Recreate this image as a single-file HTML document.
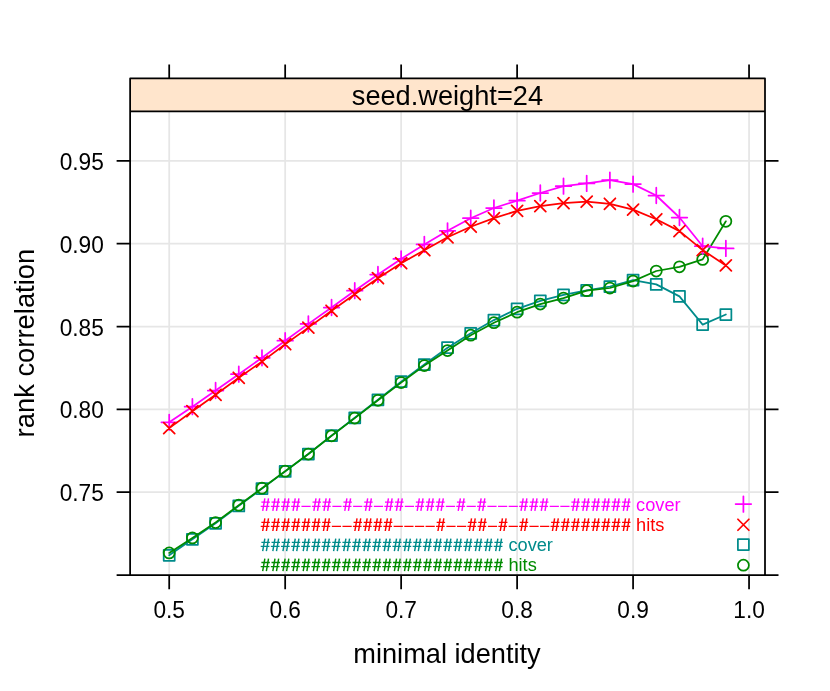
<!DOCTYPE html>
<html><head><meta charset="utf-8"><title>seed.weight=24</title>
<style>
html,body{margin:0;padding:0;background:#fff;}
svg{display:block;will-change:transform;}
text{font-family:"Liberation Sans",sans-serif;}
</style></head><body>
<svg width="830" height="691" viewBox="0 0 830 691">
<rect width="830" height="691" fill="#ffffff"/>
<path d="M169.20 111.3V575.15M285.17 111.3V575.15M401.14 111.3V575.15M517.11 111.3V575.15M633.08 111.3V575.15M749.05 111.3V575.15M130.12 492.22H765.0M130.12 409.37H765.0M130.12 326.52H765.0M130.12 243.67H765.0M130.12 160.82H765.0" stroke="#E6E6E6" stroke-width="1.75" fill="none"/>
<g fill="none" stroke-width="1.75" stroke-linecap="round" stroke-linejoin="round">
<path d="M169.20 555.30L192.39 539.30L215.59 523.30L238.78 505.90L261.98 488.60L285.17 471.40L308.36 454.00L331.56 435.60L354.75 417.80L377.95 399.80L401.14 381.60L424.33 364.50L447.53 347.70L470.72 333.30L493.92 320.10L517.11 308.80L540.30 300.80L563.50 294.80L586.69 290.40L609.89 286.50L633.08 280.10L656.27 284.40L679.47 296.40L702.66 324.60L725.86 314.50" stroke="#008B8B"/>
<path d="M163.70 549.80H174.70V560.80H163.70ZM186.89 533.80H197.89V544.80H186.89ZM210.09 517.80H221.09V528.80H210.09ZM233.28 500.40H244.28V511.40H233.28ZM256.48 483.10H267.48V494.10H256.48ZM279.67 465.90H290.67V476.90H279.67ZM302.86 448.50H313.86V459.50H302.86ZM326.06 430.10H337.06V441.10H326.06ZM349.25 412.30H360.25V423.30H349.25ZM372.45 394.30H383.45V405.30H372.45ZM395.64 376.10H406.64V387.10H395.64ZM418.83 359.00H429.83V370.00H418.83ZM442.03 342.20H453.03V353.20H442.03ZM465.22 327.80H476.22V338.80H465.22ZM488.42 314.60H499.42V325.60H488.42ZM511.61 303.30H522.61V314.30H511.61ZM534.80 295.30H545.80V306.30H534.80ZM558.00 289.30H569.00V300.30H558.00ZM581.19 284.90H592.19V295.90H581.19ZM604.39 281.00H615.39V292.00H604.39ZM627.58 274.60H638.58V285.60H627.58ZM650.77 278.90H661.77V289.90H650.77ZM673.97 290.90H684.97V301.90H673.97ZM697.16 319.10H708.16V330.10H697.16ZM720.36 309.00H731.36V320.00H720.36Z" stroke="#008B8B"/>
<path d="M169.20 552.95L192.39 537.90L215.59 522.50L238.78 505.20L261.98 488.20L285.17 471.20L308.36 454.00L331.56 435.80L354.75 418.10L377.95 400.30L401.14 382.60L424.33 365.60L447.53 350.60L470.72 335.20L493.92 322.70L517.11 312.20L540.30 304.10L563.50 298.10L586.69 290.70L609.89 288.00L633.08 281.10L656.27 271.00L679.47 266.80L702.66 259.40L725.86 221.30" stroke="#008B00"/>
<path d="M163.70 552.95a5.5 5.5 0 1 0 11.0 0a5.5 5.5 0 1 0 -11.0 0ZM186.89 537.90a5.5 5.5 0 1 0 11.0 0a5.5 5.5 0 1 0 -11.0 0ZM210.09 522.50a5.5 5.5 0 1 0 11.0 0a5.5 5.5 0 1 0 -11.0 0ZM233.28 505.20a5.5 5.5 0 1 0 11.0 0a5.5 5.5 0 1 0 -11.0 0ZM256.48 488.20a5.5 5.5 0 1 0 11.0 0a5.5 5.5 0 1 0 -11.0 0ZM279.67 471.20a5.5 5.5 0 1 0 11.0 0a5.5 5.5 0 1 0 -11.0 0ZM302.86 454.00a5.5 5.5 0 1 0 11.0 0a5.5 5.5 0 1 0 -11.0 0ZM326.06 435.80a5.5 5.5 0 1 0 11.0 0a5.5 5.5 0 1 0 -11.0 0ZM349.25 418.10a5.5 5.5 0 1 0 11.0 0a5.5 5.5 0 1 0 -11.0 0ZM372.45 400.30a5.5 5.5 0 1 0 11.0 0a5.5 5.5 0 1 0 -11.0 0ZM395.64 382.60a5.5 5.5 0 1 0 11.0 0a5.5 5.5 0 1 0 -11.0 0ZM418.83 365.60a5.5 5.5 0 1 0 11.0 0a5.5 5.5 0 1 0 -11.0 0ZM442.03 350.60a5.5 5.5 0 1 0 11.0 0a5.5 5.5 0 1 0 -11.0 0ZM465.22 335.20a5.5 5.5 0 1 0 11.0 0a5.5 5.5 0 1 0 -11.0 0ZM488.42 322.70a5.5 5.5 0 1 0 11.0 0a5.5 5.5 0 1 0 -11.0 0ZM511.61 312.20a5.5 5.5 0 1 0 11.0 0a5.5 5.5 0 1 0 -11.0 0ZM534.80 304.10a5.5 5.5 0 1 0 11.0 0a5.5 5.5 0 1 0 -11.0 0ZM558.00 298.10a5.5 5.5 0 1 0 11.0 0a5.5 5.5 0 1 0 -11.0 0ZM581.19 290.70a5.5 5.5 0 1 0 11.0 0a5.5 5.5 0 1 0 -11.0 0ZM604.39 288.00a5.5 5.5 0 1 0 11.0 0a5.5 5.5 0 1 0 -11.0 0ZM627.58 281.10a5.5 5.5 0 1 0 11.0 0a5.5 5.5 0 1 0 -11.0 0ZM650.77 271.00a5.5 5.5 0 1 0 11.0 0a5.5 5.5 0 1 0 -11.0 0ZM673.97 266.80a5.5 5.5 0 1 0 11.0 0a5.5 5.5 0 1 0 -11.0 0ZM697.16 259.40a5.5 5.5 0 1 0 11.0 0a5.5 5.5 0 1 0 -11.0 0ZM720.36 221.30a5.5 5.5 0 1 0 11.0 0a5.5 5.5 0 1 0 -11.0 0Z" stroke="#008B00"/>
<path d="M169.20 422.30L192.39 406.70L215.59 390.50L238.78 374.20L261.98 357.80L285.17 340.70L308.36 323.90L331.56 307.50L354.75 290.70L377.95 274.50L401.14 258.90L424.33 244.40L447.53 230.80L470.72 218.20L493.92 208.00L517.11 200.70L540.30 193.00L563.50 186.20L586.69 183.40L609.89 180.10L633.08 184.10L656.27 195.50L679.47 217.50L702.66 246.20L725.86 248.40" stroke="#FF00FF"/>
<path d="M161.42 422.30H176.98M169.20 414.52V430.08M184.61 406.70H200.17M192.39 398.92V414.48M207.81 390.50H223.37M215.59 382.72V398.28M231.00 374.20H246.56M238.78 366.42V381.98M254.20 357.80H269.76M261.98 350.02V365.58M277.39 340.70H292.95M285.17 332.92V348.48M300.58 323.90H316.14M308.36 316.12V331.68M323.78 307.50H339.34M331.56 299.72V315.28M346.97 290.70H362.53M354.75 282.92V298.48M370.17 274.50H385.73M377.95 266.72V282.28M393.36 258.90H408.92M401.14 251.12V266.68M416.55 244.40H432.11M424.33 236.62V252.18M439.75 230.80H455.31M447.53 223.02V238.58M462.94 218.20H478.50M470.72 210.42V225.98M486.14 208.00H501.70M493.92 200.22V215.78M509.33 200.70H524.89M517.11 192.92V208.48M532.52 193.00H548.08M540.30 185.22V200.78M555.72 186.20H571.28M563.50 178.42V193.98M578.91 183.40H594.47M586.69 175.62V191.18M602.11 180.10H617.67M609.89 172.32V187.88M625.30 184.10H640.86M633.08 176.32V191.88M648.49 195.50H664.05M656.27 187.72V203.28M671.69 217.50H687.25M679.47 209.72V225.28M694.88 246.20H710.44M702.66 238.42V253.98M718.08 248.40H733.64M725.86 240.62V256.18" stroke="#FF00FF"/>
<path d="M169.20 428.10L192.39 411.20L215.59 394.80L238.78 377.80L261.98 361.60L285.17 344.20L308.36 327.60L331.56 310.80L354.75 294.20L377.95 278.20L401.14 263.20L424.33 250.20L447.53 237.30L470.72 226.70L493.92 218.10L517.11 210.90L540.30 206.10L563.50 203.20L586.69 201.70L609.89 203.80L633.08 209.60L656.27 219.30L679.47 231.10L702.66 250.10L725.86 265.40" stroke="#FF0000"/>
<path d="M163.70 422.60L174.70 433.60M163.70 433.60L174.70 422.60M186.89 405.70L197.89 416.70M186.89 416.70L197.89 405.70M210.09 389.30L221.09 400.30M210.09 400.30L221.09 389.30M233.28 372.30L244.28 383.30M233.28 383.30L244.28 372.30M256.48 356.10L267.48 367.10M256.48 367.10L267.48 356.10M279.67 338.70L290.67 349.70M279.67 349.70L290.67 338.70M302.86 322.10L313.86 333.10M302.86 333.10L313.86 322.10M326.06 305.30L337.06 316.30M326.06 316.30L337.06 305.30M349.25 288.70L360.25 299.70M349.25 299.70L360.25 288.70M372.45 272.70L383.45 283.70M372.45 283.70L383.45 272.70M395.64 257.70L406.64 268.70M395.64 268.70L406.64 257.70M418.83 244.70L429.83 255.70M418.83 255.70L429.83 244.70M442.03 231.80L453.03 242.80M442.03 242.80L453.03 231.80M465.22 221.20L476.22 232.20M465.22 232.20L476.22 221.20M488.42 212.60L499.42 223.60M488.42 223.60L499.42 212.60M511.61 205.40L522.61 216.40M511.61 216.40L522.61 205.40M534.80 200.60L545.80 211.60M534.80 211.60L545.80 200.60M558.00 197.70L569.00 208.70M558.00 208.70L569.00 197.70M581.19 196.20L592.19 207.20M581.19 207.20L592.19 196.20M604.39 198.30L615.39 209.30M604.39 209.30L615.39 198.30M627.58 204.10L638.58 215.10M627.58 215.10L638.58 204.10M650.77 213.80L661.77 224.80M650.77 224.80L661.77 213.80M673.97 225.60L684.97 236.60M673.97 236.60L684.97 225.60M697.16 244.60L708.16 255.60M697.16 255.60L708.16 244.60M720.36 259.90L731.36 270.90M720.36 270.90L731.36 259.90" stroke="#FF0000"/>
<path d="M735.62 504.10H751.18M743.40 496.32V511.88" stroke="#FF00FF"/><path d="M737.90 519.25L748.90 530.25M737.90 530.25L748.90 519.25" stroke="#FF0000"/><path d="M737.90 539.10H748.90V550.10H737.90Z" stroke="#008B8B"/><path d="M737.90 565.15a5.5 5.5 0 1 0 11.0 0a5.5 5.5 0 1 0 -11.0 0Z" stroke="#008B00"/></g>
<path d="M262.69 510.90l2.16 -12.53M266.37 510.90l2.16 -12.53M272.82 510.90l2.16 -12.53M276.50 510.90l2.16 -12.53M282.95 510.90l2.16 -12.53M286.63 510.90l2.16 -12.53M293.08 510.90l2.16 -12.53M296.76 510.90l2.16 -12.53M313.85 510.90l2.16 -12.53M317.53 510.90l2.16 -12.53M323.98 510.90l2.16 -12.53M327.66 510.90l2.16 -12.53M344.75 510.90l2.16 -12.53M348.43 510.90l2.16 -12.53M365.52 510.90l2.16 -12.53M369.20 510.90l2.16 -12.53M386.29 510.90l2.16 -12.53M389.97 510.90l2.16 -12.53M396.42 510.90l2.16 -12.53M400.10 510.90l2.16 -12.53M417.20 510.90l2.16 -12.53M420.88 510.90l2.16 -12.53M427.33 510.90l2.16 -12.53M431.01 510.90l2.16 -12.53M437.46 510.90l2.16 -12.53M441.14 510.90l2.16 -12.53M458.23 510.90l2.16 -12.53M461.91 510.90l2.16 -12.53M479.00 510.90l2.16 -12.53M482.68 510.90l2.16 -12.53M521.05 510.90l2.16 -12.53M524.73 510.90l2.16 -12.53M531.18 510.90l2.16 -12.53M534.86 510.90l2.16 -12.53M541.31 510.90l2.16 -12.53M544.99 510.90l2.16 -12.53M572.72 510.90l2.16 -12.53M576.40 510.90l2.16 -12.53M582.85 510.90l2.16 -12.53M586.53 510.90l2.16 -12.53M592.98 510.90l2.16 -12.53M596.66 510.90l2.16 -12.53M603.11 510.90l2.16 -12.53M606.79 510.90l2.16 -12.53M613.24 510.90l2.16 -12.53M616.92 510.90l2.16 -12.53M623.37 510.90l2.16 -12.53M627.05 510.90l2.16 -12.53" stroke="#FF00FF" stroke-width="1.45" fill="none"/>
<path d="M260.73 506.30h8.68M261.39 502.20h8.45M270.86 506.30h8.68M271.52 502.20h8.45M280.99 506.30h8.68M281.65 502.20h8.45M291.12 506.30h8.68M291.78 502.20h8.45M311.89 506.30h8.68M312.55 502.20h8.45M322.02 506.30h8.68M322.68 502.20h8.45M342.79 506.30h8.68M343.45 502.20h8.45M363.56 506.30h8.68M364.22 502.20h8.45M384.33 506.30h8.68M384.99 502.20h8.45M394.46 506.30h8.68M395.12 502.20h8.45M415.24 506.30h8.68M415.90 502.20h8.45M425.37 506.30h8.68M426.03 502.20h8.45M435.50 506.30h8.68M436.16 502.20h8.45M456.27 506.30h8.68M456.93 502.20h8.45M477.04 506.30h8.68M477.70 502.20h8.45M519.09 506.30h8.68M519.75 502.20h8.45M529.22 506.30h8.68M529.88 502.20h8.45M539.35 506.30h8.68M540.01 502.20h8.45M570.76 506.30h8.68M571.42 502.20h8.45M580.89 506.30h8.68M581.55 502.20h8.45M591.02 506.30h8.68M591.68 502.20h8.45M601.15 506.30h8.68M601.81 502.20h8.45M611.28 506.30h8.68M611.94 502.20h8.45M621.41 506.30h8.68M622.07 502.20h8.45M301.45 506.30h9.22M332.35 506.30h9.22M353.12 506.30h9.22M373.89 506.30h9.22M404.80 506.30h9.22M445.83 506.30h9.22M466.60 506.30h9.22M487.37 506.30h9.22M498.01 506.30h9.22M508.65 506.30h9.22M549.68 506.30h9.22M560.32 506.30h9.22" stroke="#FF00FF" stroke-width="1.32" fill="none"/>
<text x="636.10" y="511.00" font-size="18.22" fill="#FF00FF">cover</text>
<path d="M262.69 531.00l2.16 -12.53M266.37 531.00l2.16 -12.53M272.82 531.00l2.16 -12.53M276.50 531.00l2.16 -12.53M282.95 531.00l2.16 -12.53M286.63 531.00l2.16 -12.53M293.08 531.00l2.16 -12.53M296.76 531.00l2.16 -12.53M303.21 531.00l2.16 -12.53M306.89 531.00l2.16 -12.53M313.34 531.00l2.16 -12.53M317.02 531.00l2.16 -12.53M323.47 531.00l2.16 -12.53M327.15 531.00l2.16 -12.53M354.88 531.00l2.16 -12.53M358.56 531.00l2.16 -12.53M365.01 531.00l2.16 -12.53M368.69 531.00l2.16 -12.53M375.14 531.00l2.16 -12.53M378.82 531.00l2.16 -12.53M385.27 531.00l2.16 -12.53M388.95 531.00l2.16 -12.53M437.97 531.00l2.16 -12.53M441.65 531.00l2.16 -12.53M469.38 531.00l2.16 -12.53M473.06 531.00l2.16 -12.53M479.51 531.00l2.16 -12.53M483.19 531.00l2.16 -12.53M500.28 531.00l2.16 -12.53M503.96 531.00l2.16 -12.53M521.05 531.00l2.16 -12.53M524.73 531.00l2.16 -12.53M552.46 531.00l2.16 -12.53M556.14 531.00l2.16 -12.53M562.59 531.00l2.16 -12.53M566.27 531.00l2.16 -12.53M572.72 531.00l2.16 -12.53M576.40 531.00l2.16 -12.53M582.85 531.00l2.16 -12.53M586.53 531.00l2.16 -12.53M592.98 531.00l2.16 -12.53M596.66 531.00l2.16 -12.53M603.11 531.00l2.16 -12.53M606.79 531.00l2.16 -12.53M613.24 531.00l2.16 -12.53M616.92 531.00l2.16 -12.53M623.37 531.00l2.16 -12.53M627.05 531.00l2.16 -12.53" stroke="#FF0000" stroke-width="1.45" fill="none"/>
<path d="M260.73 526.40h8.68M261.39 522.30h8.45M270.86 526.40h8.68M271.52 522.30h8.45M280.99 526.40h8.68M281.65 522.30h8.45M291.12 526.40h8.68M291.78 522.30h8.45M301.25 526.40h8.68M301.91 522.30h8.45M311.38 526.40h8.68M312.04 522.30h8.45M321.51 526.40h8.68M322.17 522.30h8.45M352.92 526.40h8.68M353.58 522.30h8.45M363.05 526.40h8.68M363.71 522.30h8.45M373.18 526.40h8.68M373.84 522.30h8.45M383.31 526.40h8.68M383.97 522.30h8.45M436.01 526.40h8.68M436.67 522.30h8.45M467.42 526.40h8.68M468.08 522.30h8.45M477.55 526.40h8.68M478.21 522.30h8.45M498.32 526.40h8.68M498.98 522.30h8.45M519.09 526.40h8.68M519.75 522.30h8.45M550.50 526.40h8.68M551.16 522.30h8.45M560.63 526.40h8.68M561.29 522.30h8.45M570.76 526.40h8.68M571.42 522.30h8.45M580.89 526.40h8.68M581.55 522.30h8.45M591.02 526.40h8.68M591.68 522.30h8.45M601.15 526.40h8.68M601.81 522.30h8.45M611.28 526.40h8.68M611.94 522.30h8.45M621.41 526.40h8.68M622.07 522.30h8.45M331.84 526.40h9.22M342.48 526.40h9.22M393.64 526.40h9.22M404.28 526.40h9.22M414.93 526.40h9.22M425.57 526.40h9.22M446.34 526.40h9.22M456.98 526.40h9.22M487.88 526.40h9.22M508.65 526.40h9.22M529.42 526.40h9.22M540.06 526.40h9.22" stroke="#FF0000" stroke-width="1.32" fill="none"/>
<text x="636.10" y="531.10" font-size="18.22" fill="#FF0000">hits</text>
<path d="M262.69 551.05l2.16 -12.53M266.37 551.05l2.16 -12.53M272.82 551.05l2.16 -12.53M276.50 551.05l2.16 -12.53M282.95 551.05l2.16 -12.53M286.63 551.05l2.16 -12.53M293.08 551.05l2.16 -12.53M296.76 551.05l2.16 -12.53M303.21 551.05l2.16 -12.53M306.89 551.05l2.16 -12.53M313.34 551.05l2.16 -12.53M317.02 551.05l2.16 -12.53M323.47 551.05l2.16 -12.53M327.15 551.05l2.16 -12.53M333.60 551.05l2.16 -12.53M337.28 551.05l2.16 -12.53M343.73 551.05l2.16 -12.53M347.41 551.05l2.16 -12.53M353.86 551.05l2.16 -12.53M357.54 551.05l2.16 -12.53M363.99 551.05l2.16 -12.53M367.67 551.05l2.16 -12.53M374.12 551.05l2.16 -12.53M377.80 551.05l2.16 -12.53M384.25 551.05l2.16 -12.53M387.93 551.05l2.16 -12.53M394.38 551.05l2.16 -12.53M398.06 551.05l2.16 -12.53M404.51 551.05l2.16 -12.53M408.19 551.05l2.16 -12.53M414.64 551.05l2.16 -12.53M418.32 551.05l2.16 -12.53M424.78 551.05l2.16 -12.53M428.46 551.05l2.16 -12.53M434.91 551.05l2.16 -12.53M438.59 551.05l2.16 -12.53M445.04 551.05l2.16 -12.53M448.72 551.05l2.16 -12.53M455.17 551.05l2.16 -12.53M458.85 551.05l2.16 -12.53M465.30 551.05l2.16 -12.53M468.98 551.05l2.16 -12.53M475.43 551.05l2.16 -12.53M479.11 551.05l2.16 -12.53M485.56 551.05l2.16 -12.53M489.24 551.05l2.16 -12.53M495.69 551.05l2.16 -12.53M499.37 551.05l2.16 -12.53" stroke="#008B8B" stroke-width="1.45" fill="none"/>
<path d="M260.73 546.45h8.68M261.39 542.35h8.45M270.86 546.45h8.68M271.52 542.35h8.45M280.99 546.45h8.68M281.65 542.35h8.45M291.12 546.45h8.68M291.78 542.35h8.45M301.25 546.45h8.68M301.91 542.35h8.45M311.38 546.45h8.68M312.04 542.35h8.45M321.51 546.45h8.68M322.17 542.35h8.45M331.64 546.45h8.68M332.30 542.35h8.45M341.77 546.45h8.68M342.43 542.35h8.45M351.90 546.45h8.68M352.56 542.35h8.45M362.03 546.45h8.68M362.69 542.35h8.45M372.16 546.45h8.68M372.82 542.35h8.45M382.29 546.45h8.68M382.95 542.35h8.45M392.42 546.45h8.68M393.08 542.35h8.45M402.55 546.45h8.68M403.21 542.35h8.45M412.68 546.45h8.68M413.34 542.35h8.45M422.82 546.45h8.68M423.48 542.35h8.45M432.95 546.45h8.68M433.61 542.35h8.45M443.08 546.45h8.68M443.74 542.35h8.45M453.21 546.45h8.68M453.87 542.35h8.45M463.34 546.45h8.68M464.00 542.35h8.45M473.47 546.45h8.68M474.13 542.35h8.45M483.60 546.45h8.68M484.26 542.35h8.45M493.73 546.45h8.68M494.39 542.35h8.45" stroke="#008B8B" stroke-width="1.32" fill="none"/>
<text x="508.41" y="551.15" font-size="18.22" fill="#008B8B">cover</text>
<path d="M262.69 571.20l2.16 -12.53M266.37 571.20l2.16 -12.53M272.82 571.20l2.16 -12.53M276.50 571.20l2.16 -12.53M282.95 571.20l2.16 -12.53M286.63 571.20l2.16 -12.53M293.08 571.20l2.16 -12.53M296.76 571.20l2.16 -12.53M303.21 571.20l2.16 -12.53M306.89 571.20l2.16 -12.53M313.34 571.20l2.16 -12.53M317.02 571.20l2.16 -12.53M323.47 571.20l2.16 -12.53M327.15 571.20l2.16 -12.53M333.60 571.20l2.16 -12.53M337.28 571.20l2.16 -12.53M343.73 571.20l2.16 -12.53M347.41 571.20l2.16 -12.53M353.86 571.20l2.16 -12.53M357.54 571.20l2.16 -12.53M363.99 571.20l2.16 -12.53M367.67 571.20l2.16 -12.53M374.12 571.20l2.16 -12.53M377.80 571.20l2.16 -12.53M384.25 571.20l2.16 -12.53M387.93 571.20l2.16 -12.53M394.38 571.20l2.16 -12.53M398.06 571.20l2.16 -12.53M404.51 571.20l2.16 -12.53M408.19 571.20l2.16 -12.53M414.64 571.20l2.16 -12.53M418.32 571.20l2.16 -12.53M424.78 571.20l2.16 -12.53M428.46 571.20l2.16 -12.53M434.91 571.20l2.16 -12.53M438.59 571.20l2.16 -12.53M445.04 571.20l2.16 -12.53M448.72 571.20l2.16 -12.53M455.17 571.20l2.16 -12.53M458.85 571.20l2.16 -12.53M465.30 571.20l2.16 -12.53M468.98 571.20l2.16 -12.53M475.43 571.20l2.16 -12.53M479.11 571.20l2.16 -12.53M485.56 571.20l2.16 -12.53M489.24 571.20l2.16 -12.53M495.69 571.20l2.16 -12.53M499.37 571.20l2.16 -12.53" stroke="#008B00" stroke-width="1.45" fill="none"/>
<path d="M260.73 566.60h8.68M261.39 562.50h8.45M270.86 566.60h8.68M271.52 562.50h8.45M280.99 566.60h8.68M281.65 562.50h8.45M291.12 566.60h8.68M291.78 562.50h8.45M301.25 566.60h8.68M301.91 562.50h8.45M311.38 566.60h8.68M312.04 562.50h8.45M321.51 566.60h8.68M322.17 562.50h8.45M331.64 566.60h8.68M332.30 562.50h8.45M341.77 566.60h8.68M342.43 562.50h8.45M351.90 566.60h8.68M352.56 562.50h8.45M362.03 566.60h8.68M362.69 562.50h8.45M372.16 566.60h8.68M372.82 562.50h8.45M382.29 566.60h8.68M382.95 562.50h8.45M392.42 566.60h8.68M393.08 562.50h8.45M402.55 566.60h8.68M403.21 562.50h8.45M412.68 566.60h8.68M413.34 562.50h8.45M422.82 566.60h8.68M423.48 562.50h8.45M432.95 566.60h8.68M433.61 562.50h8.45M443.08 566.60h8.68M443.74 562.50h8.45M453.21 566.60h8.68M453.87 562.50h8.45M463.34 566.60h8.68M464.00 562.50h8.45M473.47 566.60h8.68M474.13 562.50h8.45M483.60 566.60h8.68M484.26 562.50h8.45M493.73 566.60h8.68M494.39 562.50h8.45" stroke="#008B00" stroke-width="1.32" fill="none"/>
<text x="508.41" y="571.30" font-size="18.22" fill="#008B00">hits</text>
<rect x="130.12" y="78.4" width="634.88" height="32.89999999999999" fill="#FFE5CC"/>
<path d="M130.12 78.4H765.0V575.15H130.12Z M130.12 111.3H765.0M169.20 78.4v-14.0M169.20 575.15v14.0M285.17 78.4v-14.0M285.17 575.15v14.0M401.14 78.4v-14.0M401.14 575.15v14.0M517.11 78.4v-14.0M517.11 575.15v14.0M633.08 78.4v-14.0M633.08 575.15v14.0M749.05 78.4v-14.0M749.05 575.15v14.0M130.12 575.07h-13.5M765.0 575.07h13.5M130.12 492.22h-13.5M765.0 492.22h13.5M130.12 409.37h-13.5M765.0 409.37h13.5M130.12 326.52h-13.5M765.0 326.52h13.5M130.12 243.67h-13.5M765.0 243.67h13.5M130.12 160.82h-13.5M765.0 160.82h13.5" stroke="#000" stroke-width="1.75" fill="none" stroke-linejoin="round"/>
<text transform="translate(169.20 617.9) scale(1 1.04)" font-size="22.7" text-anchor="middle">0.5</text>
<text transform="translate(285.17 617.9) scale(1 1.04)" font-size="22.7" text-anchor="middle">0.6</text>
<text transform="translate(401.14 617.9) scale(1 1.04)" font-size="22.7" text-anchor="middle">0.7</text>
<text transform="translate(517.11 617.9) scale(1 1.04)" font-size="22.7" text-anchor="middle">0.8</text>
<text transform="translate(633.08 617.9) scale(1 1.04)" font-size="22.7" text-anchor="middle">0.9</text>
<text transform="translate(749.05 617.9) scale(1 1.04)" font-size="22.7" text-anchor="middle">1.0</text>
<text transform="translate(103.8 501.22) scale(1 1.04)" font-size="22.7" text-anchor="end">0.75</text>
<text transform="translate(103.8 418.37) scale(1 1.04)" font-size="22.7" text-anchor="end">0.80</text>
<text transform="translate(103.8 335.52) scale(1 1.04)" font-size="22.7" text-anchor="end">0.85</text>
<text transform="translate(103.8 252.67) scale(1 1.04)" font-size="22.7" text-anchor="end">0.90</text>
<text transform="translate(103.8 169.82) scale(1 1.04)" font-size="22.7" text-anchor="end">0.95</text>
<text x="447.4" y="104.5" font-size="27.2" text-anchor="middle">seed.weight=24</text>
<text x="447.0" y="662.8" font-size="27.2" text-anchor="middle">minimal identity</text>
<text transform="translate(34.3 343.1) rotate(-90)" font-size="27.38" text-anchor="middle">rank correlation</text>
</svg>
</body></html>
